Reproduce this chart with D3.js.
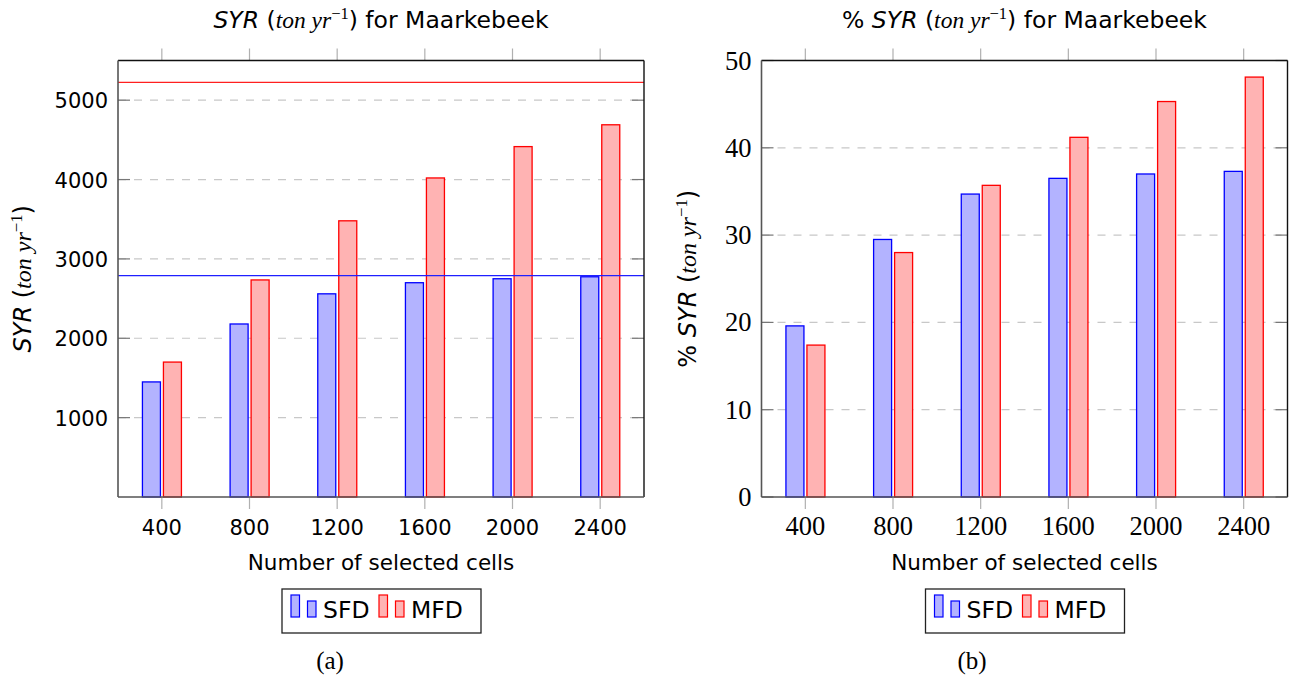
<!DOCTYPE html>
<html>
<head>
<meta charset="utf-8">
<script src="https://cdn.jsdelivr.net/npm/d3@7"></script>
<style>
body { margin: 0; background: #fff; }
</style>
</head>
<body>
<script>
// categories on the x axis
var cells = [400, 800, 1200, 1600, 2000, 2400];

// panel (a): SYR (ton/yr)
var syrSFD = [1450, 2180, 2560, 2700, 2750, 2775];
var syrMFD = [1700, 2735, 3480, 4020, 4415, 4690];
var syrRefSFD = 2790;   // blue horizontal line
var syrRefMFD = 5225;   // red horizontal line
var syrTicks = [1000, 2000, 3000, 4000, 5000];

// panel (b): % SYR
var pctSFD = [19.6, 29.5, 34.7, 36.5, 37.0, 37.3];
var pctMFD = [17.4, 28.0, 35.7, 41.2, 45.3, 48.1];
var pctTicks = [0, 10, 20, 30, 40, 50];

var seriesNames = ["SFD", "MFD"];

var W = 1295, H = 679;
var sans = "DejaVu Sans", serif = "Liberation Serif";

var svg = d3.select("body").append("svg")
    .attr("width", W)
    .attr("height", H);

// writes "SYR (ton yr^-1)" into a text element, optional "% " in front
function unitLabel(t, prefix) {
    if (prefix) t.append("tspan").attr("font-family", sans).text(prefix);
    t.append("tspan").attr("font-family", sans).attr("font-style", "italic").text("SYR");
    t.append("tspan").attr("font-family", sans).text(" (");
    t.append("tspan").attr("font-family", serif).attr("font-style", "italic").text("ton yr");
    t.append("tspan").attr("font-family", serif).attr("font-size", "0.7em").attr("dy", "-0.55em").text("\u22121");
    t.append("tspan").attr("font-family", sans).attr("dy", "0.385em").text(")");
}

function drawPanel(o) {
    var left = o.left, right = o.left + 526, top = 60.5, bottom = 497;

    var x = d3.scaleLinear().domain([200, 2600]).range([left, right]);
    var y = d3.scaleLinear().domain([0, o.ymax]).range([bottom, top]);

    var g = svg.append("g");

    // dashed grid
    g.selectAll(".grid")
        .data(o.ticks.filter(function(d) { return d > 0 && d < o.ymax; }))
        .enter().append("line")
        .attr("x1", left).attr("x2", right)
        .attr("y1", function(d) { return y(d); })
        .attr("y2", function(d) { return y(d); })
        .attr("stroke", "#c8c8c8")
        .attr("stroke-width", 1.2)
        .attr("stroke-dasharray", "8,8");

    // y ticks (inside, both sides)
    o.ticks.forEach(function(d) {
        [[left, left + 12], [right - 12, right]].forEach(function(p) {
            g.append("line")
                .attr("x1", p[0]).attr("x2", p[1])
                .attr("y1", y(d)).attr("y2", y(d))
                .attr("stroke", "#777").attr("stroke-width", 1.2);
        });
    });

    // x ticks (outside, top and bottom)
    cells.forEach(function(c) {
        g.append("line").attr("x1", x(c)).attr("x2", x(c))
            .attr("y1", top - 12).attr("y2", top)
            .attr("stroke", "#b0b0b0").attr("stroke-width", 1.2);
        g.append("line").attr("x1", x(c)).attr("x2", x(c))
            .attr("y1", bottom).attr("y2", bottom + 12)
            .attr("stroke", "#b0b0b0").attr("stroke-width", 1.2);
    });

    // bars
    var series = [
        {vals: o.sfd, dx: -19.4, fill: "#b3b3ff", stroke: "#0000ff"},
        {vals: o.mfd, dx: 1.6, fill: "#ffb3b3", stroke: "#ff0000"}
    ];
    series.forEach(function(s) {
        g.selectAll(null)
            .data(s.vals)
            .enter().append("rect")
            .attr("x", function(d, i) { return x(cells[i]) + s.dx; })
            .attr("width", 18)
            .attr("y", function(d) { return y(d); })
            .attr("height", function(d) { return y(0) - y(d); })
            .attr("fill", s.fill)
            .attr("stroke", s.stroke)
            .attr("stroke-width", 1.3);
    });

    // reference lines
    if (o.refs) {
        o.refs.forEach(function(r) {
            g.append("line")
                .attr("x1", left).attr("x2", right)
                .attr("y1", y(r.v)).attr("y2", y(r.v))
                .attr("stroke", r.c).attr("stroke-width", 1.3);
        });
    }

    // frame
    g.append("line").attr("x1", left).attr("x2", right).attr("y1", top).attr("y2", top)
        .attr("stroke", "#111").attr("stroke-width", 1.4);
    g.append("line").attr("x1", right).attr("x2", right).attr("y1", top).attr("y2", bottom)
        .attr("stroke", "#111").attr("stroke-width", 1.4);
    g.append("line").attr("x1", left).attr("x2", left).attr("y1", top).attr("y2", bottom)
        .attr("stroke", "#555").attr("stroke-width", 1.6);
    g.append("line").attr("x1", left).attr("x2", right).attr("y1", bottom).attr("y2", bottom)
        .attr("stroke", "#555").attr("stroke-width", 1.6);

    // tick labels
    g.selectAll(".ylab")
        .data(o.ticks)
        .enter().append("text")
        .attr("x", left - 10)
        .attr("y", function(d) { return y(d) + o.tickBase; })
        .attr("text-anchor", "end")
        .attr("font-family", o.tickFont)
        .attr("font-size", o.tickSize)
        .text(function(d) { return d; });

    g.selectAll(".xlab")
        .data(cells)
        .enter().append("text")
        .attr("x", function(d) { return x(d); })
        .attr("y", 535)
        .attr("text-anchor", "middle")
        .attr("font-family", o.tickFont)
        .attr("font-size", o.tickSize)
        .text(function(d) { return d; });

    var cx = (left + right) / 2;

    // x label
    g.append("text")
        .attr("x", cx).attr("y", 570)
        .attr("text-anchor", "middle")
        .attr("font-family", sans).attr("font-size", 21.5)
        .text("Number of selected cells");

    // title
    var tt = g.append("text")
        .attr("x", cx).attr("y", 28)
        .attr("text-anchor", "middle")
        .attr("font-size", 23.5);
    unitLabel(tt, o.prefix);
    tt.append("tspan").attr("font-family", sans).text(" for Maarkebeek");

    // y label
    var yl = g.append("text")
        .attr("transform", "translate(" + o.ylabX + "," + ((top + bottom) / 2) + ") rotate(-90)")
        .attr("text-anchor", "middle")
        .attr("font-size", 24);
    unitLabel(yl, o.prefix);

    // legend
    var lx = cx - 99, ly = 589;
    var lg = g.append("g");
    lg.append("rect")
        .attr("x", lx).attr("y", ly).attr("width", 199).attr("height", 44)
        .attr("fill", "#fff").attr("stroke", "#222").attr("stroke-width", 1.3);
    var legendX = [lx + 9, lx + 97];
    seriesNames.forEach(function(name, i) {
        var s = series[i], bx = legendX[i];
        lg.append("rect").attr("x", bx).attr("y", ly + 6).attr("width", 8.5).attr("height", 22)
            .attr("fill", s.fill).attr("stroke", s.stroke).attr("stroke-width", 1.2);
        lg.append("rect").attr("x", bx + 16.5).attr("y", ly + 12).attr("width", 8.5).attr("height", 16)
            .attr("fill", s.fill).attr("stroke", s.stroke).attr("stroke-width", 1.2);
        lg.append("text")
            .attr("x", bx + 32).attr("y", ly + 29)
            .attr("font-family", sans).attr("font-size", 23.5)
            .text(name);
    });

    // panel caption
    g.append("text")
        .attr("x", o.capX).attr("y", 669)
        .attr("text-anchor", "middle")
        .attr("font-family", serif).attr("font-size", 25)
        .text(o.caption);
}

drawPanel({
    left: 118, ymax: 5500, ticks: syrTicks,
    sfd: syrSFD, mfd: syrMFD,
    refs: [{v: syrRefMFD, c: "#ff2020"}, {v: syrRefSFD, c: "#2020ff"}],
    tickFont: sans, tickSize: 21, tickBase: 8,
    prefix: "", ylabX: 31, capX: 330, caption: "(a)"
});

drawPanel({
    left: 761.5, ymax: 50, ticks: pctTicks,
    sfd: pctSFD, mfd: pctMFD,
    refs: null,
    tickFont: serif, tickSize: 26.5, tickBase: 9,
    prefix: "% ", ylabX: 696, capX: 972, caption: "(b)"
});
</script>
</body>
</html>
